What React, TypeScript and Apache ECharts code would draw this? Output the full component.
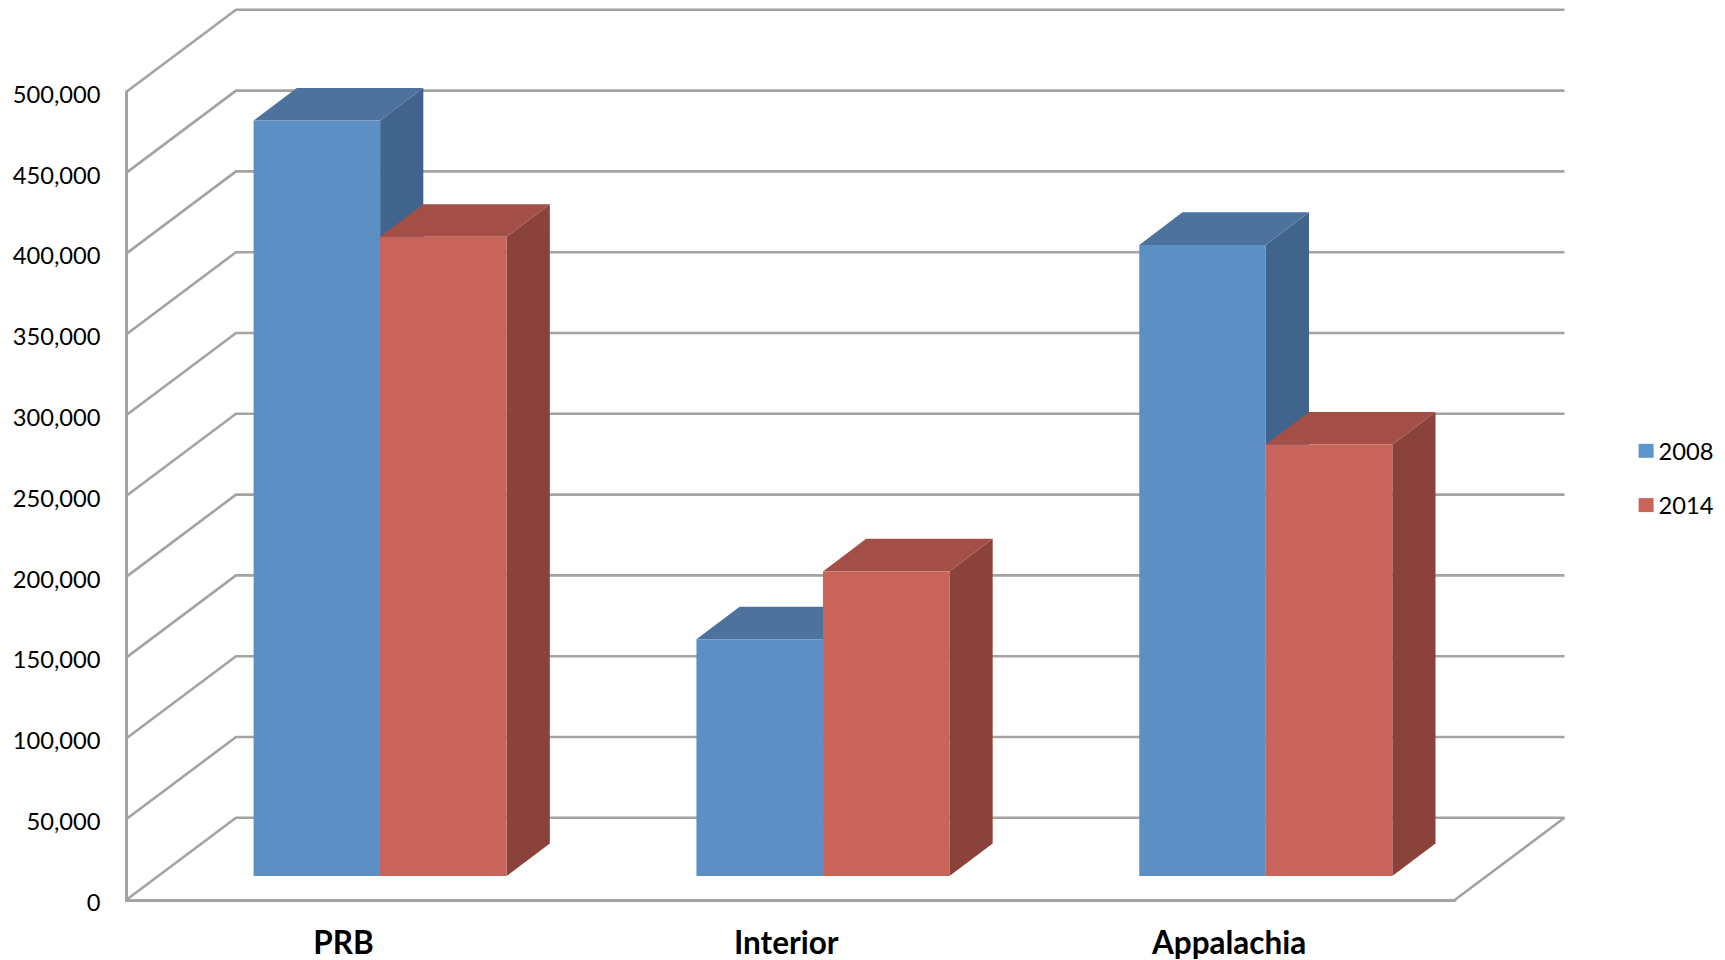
import React, { useEffect, useRef } from "react";
import * as echarts from "echarts";

const categories = ["PRB", "Interior", "Appalachia"];
const years = ["2008", "2014"];
const values2008 = [467500, 146500, 390500];
const values2014 = [395500, 188500, 267000];
const tickValues = [0, 50000, 100000, 150000, 200000, 250000, 300000, 350000, 400000, 450000, 500000];

const FONT = "Lato";
const LINE = "#a3a3a3";
const DEPTH_X = 109.5;
const DEPTH_Y = 82;
const BAR_SHIFT_X = 32.2;
const BAR_SHIFT_Y = 23.8;
const BAR_DX = 43.2;
const BAR_DY = 32.6;
const BAR_RATIO = 0.2857;

function wallItem(params: any, api: any) {
  const c = params.coordSys;
  const v = api.value(1);
  const y = api.coord([0, v])[1];
  const x0 = c.x;
  const x1 = c.x + c.width;
  const children: any[] = [];
  children.push({
    type: "polyline",
    shape: { points: [[x0, y], [x0 + DEPTH_X, y - DEPTH_Y], [x1 + DEPTH_X, y - DEPTH_Y]] },
    style: { stroke: LINE, lineWidth: 2.6, fill: "none" },
  });
  if (v === 0) {
    children.push({
      type: "line",
      shape: { x1, y1: y, x2: x1 + DEPTH_X, y2: y - DEPTH_Y },
      style: { stroke: LINE, lineWidth: 2.6 },
    });
  }
  return { type: "group", children };
}

function barItem(side: number, topColor: string, sideColor: string) {
  return (params: any, api: any) => {
    const cat = api.value(0);
    const v = api.value(1);
    const band = api.size([1, 0])[0];
    const w = band * BAR_RATIO;
    const center = api.coord([cat, 0])[0] + BAR_SHIFT_X;
    const yBase = api.coord([cat, 0])[1] - BAR_SHIFT_Y;
    const yTop = api.coord([cat, v])[1] - BAR_SHIFT_Y;
    const xl = side < 0 ? center - w : center;
    const xr = xl + w;
    return {
      type: "group",
      children: [
        {
          type: "polygon",
          shape: { points: [[xr, yTop], [xr + BAR_DX, yTop - BAR_DY], [xr + BAR_DX, yBase - BAR_DY], [xr, yBase]] },
          style: { fill: sideColor },
        },
        {
          type: "polygon",
          shape: { points: [[xl, yTop], [xl + BAR_DX, yTop - BAR_DY], [xr + BAR_DX, yTop - BAR_DY], [xr, yTop]] },
          style: { fill: topColor },
        },
        {
          type: "rect",
          shape: { x: xl, y: yTop, width: w, height: yBase - yTop },
          style: { fill: api.visual("color") },
        },
      ],
    };
  };
}

export default function App() {
  const ref = useRef<HTMLDivElement>(null);
  useEffect(() => {
    document.body.style.margin = "0";
    const chart = echarts.init(ref.current!, undefined, { renderer: "svg" });
    chart.setOption({
      animation: false,
      backgroundColor: "#ffffff",
      grid: { left: 126.5, top: 91.8, width: 1328.5, height: 808 },
      xAxis: {
        type: "category",
        data: categories,
        axisTick: { show: false },
        axisLine: { show: true, lineStyle: { color: LINE, width: 3 } },
        axisLabel: {
          color: "#000000",
          fontFamily: FONT,
          fontWeight: "bold",
          fontSize: 31.5,
          lineHeight: 30,
          margin: 27,
          padding: [0, 9, 0, 0],
        },
      },
      yAxis: {
        type: "value",
        min: 0,
        max: 500000,
        interval: 50000,
        splitLine: { show: false },
        axisTick: { show: false },
        axisLine: { show: true, lineStyle: { color: LINE, width: 3 } },
        axisLabel: {
          color: "#000000",
          fontFamily: FONT,
          fontSize: 23.7,
          margin: 26,
          verticalAlign: "top",
          lineHeight: 4,
          formatter: (v: number) => v.toLocaleString("en-US"),
        },
      },
      legend: {
        data: [
          { name: years[0], itemStyle: { color: "#5f95cd" } },
          { name: years[1], itemStyle: { color: "#c9645a" } },
        ],
        orient: "vertical",
        left: 1633.6,
        top: 433.8,
        icon: "rect",
        itemWidth: 15,
        itemHeight: 14,
        itemGap: 30.3,
        textStyle: { color: "#000000", fontFamily: FONT, fontSize: 23.7 },
      },
      series: [
        {
          type: "custom",
          name: "wall",
          z: 1,
          silent: true,
          clip: false,
          renderItem: wallItem,
          encode: { x: 0, y: 1 },
          data: tickValues.map((v) => [0, v]),
        },
        {
          type: "custom",
          name: years[0],
          z: 2,
          clip: false,
          itemStyle: { color: "#5c90c5" },
          renderItem: barItem(-1, "#4d729e", "#41648d"),
          encode: { x: 0, y: 1 },
          data: values2008.map((v, i) => [i, v]),
        },
        {
          type: "custom",
          name: years[1],
          z: 3,
          clip: false,
          itemStyle: { color: "#c9645a" },
          renderItem: barItem(1, "#a34f47", "#8b423a"),
          encode: { x: 0, y: 1 },
          data: values2014.map((v, i) => [i, v]),
        },
      ],
    });
    return () => chart.dispose();
  }, []);
  return <div ref={ref} style={{ position: "absolute", left: 0, top: 0, width: 1725, height: 960 }} />;
}
